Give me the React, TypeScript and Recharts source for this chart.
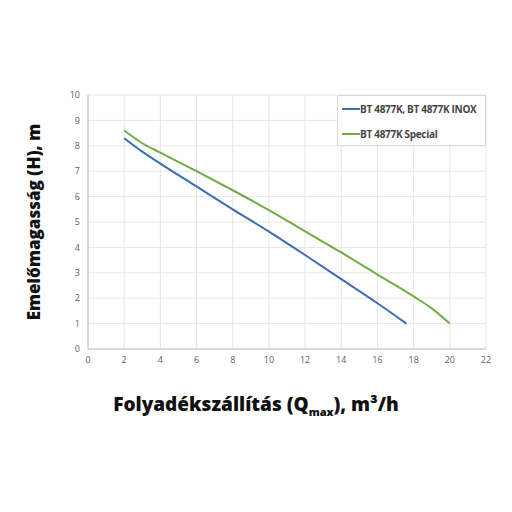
import React from "react";
import { LineChart, Line, XAxis, YAxis, CartesianGrid } from "recharts";

// Flow (m3/h) vs head (m)
const standardFlow = [2, 3, 4, 6, 8, 10, 12, 14, 16, 17.6];
const standardHead = [8.3, 7.77, 7.3, 6.4, 5.5, 4.62, 3.7, 2.75, 1.8, 1.0];

const specialFlow = [2, 3, 4, 6, 8, 10, 12, 14, 16, 18, 19, 20];
const specialHead = [8.6, 8.1, 7.73, 7.0, 6.25, 5.47, 4.63, 3.8, 2.93, 2.07, 1.6, 1.0];

const seriesNames = ["BT 4877K, BT 4877K INOX", "BT 4877K Special"];
const seriesColors = ["#3b6fb1", "#72ac46"];

const xTicks = [0, 2, 4, 6, 8, 10, 12, 14, 16, 18, 20, 22];
const yTicks = [0, 1, 2, 3, 4, 5, 6, 7, 8, 9, 10];

const standardData = standardFlow.map((q, i) => ({ q, h: standardHead[i] }));
const specialData = specialFlow.map((q, i) => ({ q, h: specialHead[i] }));

const tickStyle = { fill: "#606060", fontSize: 9, fontFamily: "Open Sans" };

// legend drawn as an overlay so it takes no room from the plot
const LegendBox = () => (
  <div
    style={{
      position: "absolute",
      left: 337,
      top: 95,
      width: 149,
      height: 51,
      border: "1px solid #d9d9d9",
      background: "#fff",
      boxSizing: "border-box",
      fontFamily: "Open Sans",
      fontWeight: 700,
      fontSize: 10,
      color: "#444",
      paddingTop: 6,
    }}
  >
    {seriesNames.map((name, i) => (
      <div key={name} style={{ display: "flex", alignItems: "center", height: 14, marginBottom: i === 0 ? 11 : 0 }}>
        <span style={{ display: "inline-block", width: 18, height: 2, background: seriesColors[i], marginLeft: 4 }} />
        <span style={{ whiteSpace: "nowrap", letterSpacing: -0.3 }}>{name}</span>
      </div>
    ))}
  </div>
);

export default function App() {
  return (
    <div style={{ position: "fixed", left: 0, top: 0, width: 512, height: 512, background: "#fff" }}>
      <LineChart width={512} height={512} margin={{ top: 95, right: 26, bottom: 143, left: 60 }}>
        <CartesianGrid stroke="#e6e6e6" />
        <XAxis
          type="number"
          dataKey="q"
          domain={[0, 22]}
          ticks={xTicks}
          height={20}
          tick={tickStyle}
          tickLine={false}
          axisLine={{ stroke: "#bfbfbf" }}
          allowDataOverflow
        />
        <YAxis
          type="number"
          dataKey="h"
          domain={[0, 10]}
          ticks={yTicks}
          width={28}
          tick={tickStyle}
          tickLine={false}
          axisLine={{ stroke: "#bfbfbf" }}
        />
        <Line
          data={standardData}
          dataKey="h"
          name={seriesNames[0]}
          type="monotone"
          stroke={seriesColors[0]}
          strokeWidth={2}
          dot={false}
          isAnimationActive={false}
        />
        <Line
          data={specialData}
          dataKey="h"
          name={seriesNames[1]}
          type="monotone"
          stroke={seriesColors[1]}
          strokeWidth={2}
          dot={false}
          isAnimationActive={false}
        />
      </LineChart>
      <LegendBox />
      <div
        style={{
          position: "absolute",
          left: 33,
          top: 222,
          transform: "translate(-50%, -50%) rotate(-90deg)",
          whiteSpace: "nowrap",
          fontFamily: "Open Sans",
          fontWeight: 800,
          fontSize: 17,
          color: "#111",
        }}
      >
        Emelőmagasság (H), m
      </div>
      <div
        style={{
          position: "absolute",
          left: 256,
          top: 405,
          transform: "translate(-50%, -50%)",
          whiteSpace: "nowrap",
          fontFamily: "Open Sans",
          fontWeight: 800,
          fontSize: 19,
          color: "#111",
        }}
      >
        Folyadékszállítás (Q<sub style={{ fontSize: 11 }}>max</sub>), m³/h
      </div>
    </div>
  );
}
